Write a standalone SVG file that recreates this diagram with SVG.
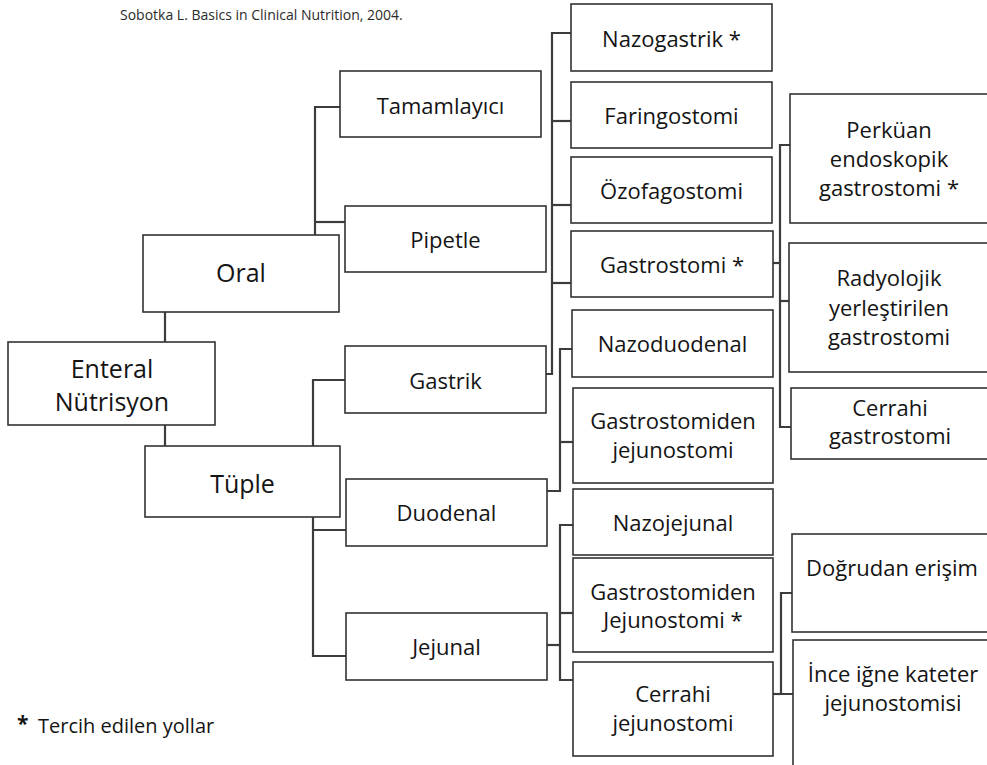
<svg xmlns="http://www.w3.org/2000/svg" width="987" height="765" viewBox="0 0 987 765">
<style>
  .box { fill: #ffffff; stroke: #333333; stroke-width: 1.6; }
  .conn { fill: none; stroke: #3c3c3c; stroke-width: 2.2; }
  text { font-family: "Open Sans", "Noto Sans", "DejaVu Sans", sans-serif; fill: #141414; text-anchor: middle; }
  .t1 { font-size: 25px; }
  .t2 { font-size: 22px; }
  .small { font-size: 14px; text-anchor: start; fill: #2a2a2a; }
  .legend { font-size: 20px; text-anchor: start; }
</style>
<rect x="0" y="0" width="987" height="765" fill="#ffffff"/>
<text class="small" x="120" y="20">Sobotka L. Basics in Clinical Nutrition, 2004.</text>

<g id="connectors">
  <path class="conn" d="M165,312 V342"/>
  <path class="conn" d="M165,425 V446"/>
  <path class="conn" d="M315,235 V107 H340"/>
  <path class="conn" d="M315,222 H345"/>
  <path class="conn" d="M313,446 V380 H345"/>
  <path class="conn" d="M313,517 V656 H346"/>
  <path class="conn" d="M313,530 H346"/>
  <path class="conn" d="M546,374 H552 V33 H571"/>
  <path class="conn" d="M552,121 H571"/>
  <path class="conn" d="M552,205 H571"/>
  <path class="conn" d="M552,283 H571"/>
  <path class="conn" d="M547,491 H560 V349 H572"/>
  <path class="conn" d="M560,442 H573"/>
  <path class="conn" d="M547,645 H560"/>
  <path class="conn" d="M573,525 H560 V680 H573"/>
  <path class="conn" d="M560,613 H573"/>
  <path class="conn" d="M773,263 H780"/>
  <path class="conn" d="M790,145 H780 V427 H791"/>
  <path class="conn" d="M780,301 H789"/>
  <path class="conn" d="M773,694 H781"/>
  <path class="conn" d="M792,593 H781 V694 H793"/>
</g>

<g id="enteral">
  <rect class="box" x="8" y="342" width="207" height="83"/>
  <text class="t1" x="112" y="378">Enteral</text>
  <text class="t1" x="112" y="411">Nütrisyon</text>
</g>
<g id="oral">
  <rect class="box" x="143" y="235" width="196" height="77"/>
  <text class="t1" x="241" y="282">Oral</text>
</g>
<g id="tuple">
  <rect class="box" x="145" y="446" width="195" height="71"/>
  <text class="t1" x="242.5" y="493">Tüple</text>
</g>
<g id="tamamlayici">
  <rect class="box" x="340" y="71" width="201" height="66"/>
  <text class="t2" x="440.5" y="114">Tamamlayıcı</text>
</g>
<g id="pipetle">
  <rect class="box" x="345" y="206" width="201" height="66"/>
  <text class="t2" x="445.5" y="248">Pipetle</text>
</g>
<g id="gastrik">
  <rect class="box" x="345" y="346" width="201" height="67"/>
  <text class="t2" x="445.5" y="389">Gastrik</text>
</g>
<g id="duodenal">
  <rect class="box" x="346" y="479" width="201" height="67"/>
  <text class="t2" x="446.5" y="521">Duodenal</text>
</g>
<g id="jejunal">
  <rect class="box" x="346" y="613" width="201" height="67"/>
  <text class="t2" x="446.5" y="655">Jejunal</text>
</g>
<g id="nazogastrik">
  <rect class="box" x="571" y="4" width="201" height="67"/>
  <text class="t2" x="671.5" y="47">Nazogastrik *</text>
</g>
<g id="faringostomi">
  <rect class="box" x="571" y="82" width="201" height="66"/>
  <text class="t2" x="671.5" y="124">Faringostomi</text>
</g>
<g id="ozofagostomi">
  <rect class="box" x="571" y="157" width="201" height="66"/>
  <text class="t2" x="671.5" y="199">Özofagostomi</text>
</g>
<g id="gastrostomi">
  <rect class="box" x="571" y="231" width="202" height="66"/>
  <text class="t2" x="672" y="273">Gastrostomi *</text>
</g>
<g id="nazoduodenal">
  <rect class="box" x="572" y="310" width="201" height="67"/>
  <text class="t2" x="672.5" y="352">Nazoduodenal</text>
</g>
<g id="gastrostomiden-jejunostomi">
  <rect class="box" x="573" y="388" width="200" height="95"/>
  <text class="t2" x="673" y="429">Gastrostomiden</text>
  <text class="t2" x="673" y="458">jejunostomi</text>
</g>
<g id="nazojejunal">
  <rect class="box" x="573" y="489" width="200" height="66"/>
  <text class="t2" x="673" y="531">Nazojejunal</text>
</g>
<g id="gastrostomiden-jejunostomi-star">
  <rect class="box" x="573" y="558" width="200" height="94"/>
  <text class="t2" x="673" y="600">Gastrostomiden</text>
  <text class="t2" x="673" y="628">Jejunostomi *</text>
</g>
<g id="cerrahi-jejunostomi">
  <rect class="box" x="573" y="662" width="200" height="94"/>
  <text class="t2" x="673" y="702">Cerrahi</text>
  <text class="t2" x="673" y="731">jejunostomi</text>
</g>
<g id="perkuan">
  <rect class="box" x="790" y="94" width="200" height="129"/>
  <text class="t2" x="889" y="138">Perküan</text>
  <text class="t2" x="889" y="167">endoskopik</text>
  <text class="t2" x="889" y="196">gastrostomi *</text>
</g>
<g id="radyolojik">
  <rect class="box" x="789" y="243" width="200" height="129"/>
  <text class="t2" x="889" y="286">Radyolojik</text>
  <text class="t2" x="889" y="316">yerleştirilen</text>
  <text class="t2" x="889" y="345">gastrostomi</text>
</g>
<g id="cerrahi-gastrostomi">
  <rect class="box" x="791" y="388" width="200" height="71"/>
  <text class="t2" x="890" y="416">Cerrahi</text>
  <text class="t2" x="890" y="444">gastrostomi</text>
</g>
<g id="dogrudan">
  <rect class="box" x="792" y="534" width="200" height="98"/>
  <text class="t2" x="892" y="576">Doğrudan erişim</text>
</g>
<g id="ince-igne">
  <rect class="box" x="793" y="640" width="200" height="140"/>
  <text class="t2" x="893" y="682">İnce iğne kateter</text>
  <text class="t2" x="893" y="711">jejunostomisi</text>
</g>

<g id="legend">
  <text class="legend" x="17" y="731" style="font-size:21px;font-weight:bold">*</text>
  <text class="legend" x="38" y="733">Tercih edilen yollar</text>
</g>
</svg>
